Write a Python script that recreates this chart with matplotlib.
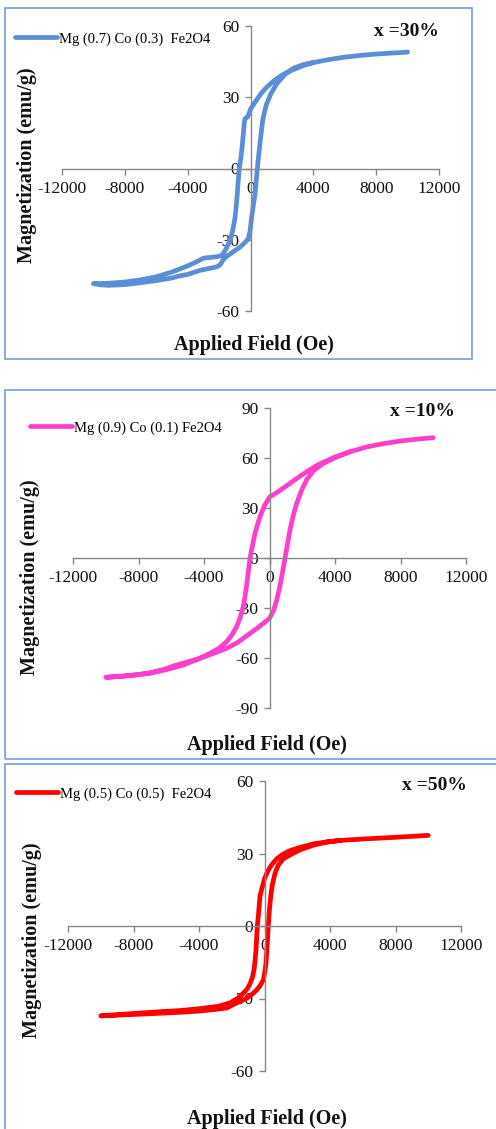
import matplotlib
matplotlib.use("Agg")
import matplotlib.pyplot as plt
from matplotlib.patches import Rectangle

# ---------------- data ----------------
# Panel 1: Mg(0.7)Co(0.3)Fe2O4, x = 30 %
h30_down = [10000, 9000, 8000, 7000, 6000, 5000, 4000, 3500, 3000, 2500, 2000, 1500, 1000, 700, 400, 200, 0, -100, -200, -350, -400, -450, -520, -600, -710, -780, -840, -910, -990, -1100, -1200, -1350, -1515, -1700, -1835, -2100, -2500, -2800, -3000, -3200, -3600, -4000, -5000, -6000, -7000, -8000, -9000, -10000]
m30_down = [49.0, 48.6, 48.2, 47.6, 46.9, 45.9, 44.6, 43.7, 42.4, 41.0, 39.3, 37.0, 34.0, 31.8, 29.0, 27.0, 25.0, 23.0, 21.6, 21.0, 19.0, 15.0, 10.0, 5.0, 0.0, -5.0, -10.7, -16.0, -21.0, -25.0, -28.0, -31.0, -33.3, -35.5, -36.6, -37.1, -37.4, -37.6, -37.8, -38.5, -39.8, -41.0, -43.6, -45.6, -46.9, -47.8, -48.3, -48.5]
h30_up = [-10000, -9500, -9000, -8000, -7000, -6000, -5000, -4500, -4000, -3215, -2500, -2150, -1940, -1730, -1500, -1300, -1000, -670, -400, -140, -30, 75, 180, 290, 360, 435, 520, 600, 690, 775, 900, 1030, 1300, 1670, 2200, 2730, 3300, 4000]
m30_up = [-48.5, -49.0, -49.2, -48.9, -48.1, -47.2, -46.1, -45.2, -44.6, -42.9, -41.9, -41.4, -40.6, -38.3, -36.9, -36.0, -34.6, -33.1, -31.5, -29.6, -26.5, -20.5, -15.5, -10.7, -5.5, 0.0, 5.5, 10.4, 15.5, 20.2, 24.2, 27.2, 31.5, 35.7, 39.6, 42.2, 43.6, 44.6]

# Panel 2: Mg(0.9)Co(0.1)Fe2O4, x = 10 %
h10_down = [10000, 9000, 8000, 7000, 6000, 5000, 4000, 3000, 2470, 2000, 1500, 1000, 500, 0, -300, -580, -750, -885, -1050, -1190, -1355, -1480, -1600, -1800, -2005, -2300, -2615, -3100, -3635, -4400, -5265, -6300, -7300, -8500, -10000]
m10_down = [72.2, 71.3, 70.2, 68.7, 66.8, 64.0, 60.6, 56.2, 53.0, 50.0, 46.6, 43.0, 39.6, 36.5, 31.5, 24.8, 19.5, 14.8, 7.0, 0.0, -13.2, -22.0, -29.2, -36.0, -41.2, -46.2, -50.2, -54.2, -57.2, -60.8, -64.2, -67.0, -69.2, -70.6, -71.6]
h10_up = [-10000, -9000, -8000, -7300, -6500, -5800, -5000, -4245, -3500, -2615, -2000, -1190, -600, 0, 250, 440, 600, 745, 850, 950, 1100, 1250, 1450, 1660, 1950, 2270, 2700, 3290, 4000, 4915]
m10_up = [-71.6, -70.9, -69.9, -68.8, -67.0, -64.6, -62.3, -60.2, -57.5, -54.2, -51.0, -45.2, -41.0, -36.2, -31.5, -25.2, -18.5, -11.2, -5.5, 0.0, 8.5, 16.8, 25.5, 32.8, 40.5, 47.0, 52.5, 56.8, 60.2, 63.8]

# Panel 3: Mg(0.5)Co(0.5)Fe2O4, x = 50 %
h50_down = [10000, 8000, 6000, 4610, 3800, 3010, 2200, 1560, 1100, 745, 400, 170, 0, -70, -180, -275, -330, -380, -440, -520, -580, -640, -750, -885, -1050, -1295, -1600, -2105, -2800, -3940, -5160, -6000, -8000, -10000]
m50_down = [37.5, 36.7, 36.0, 35.4, 34.8, 34.0, 32.6, 31.2, 29.6, 27.8, 25.0, 22.3, 19.5, 17.7, 15.0, 12.3, 8.0, 3.8, 0.0, -9.9, -14.5, -18.2, -21.5, -23.9, -26.0, -27.8, -29.8, -31.8, -33.2, -34.2, -35.0, -35.3, -36.2, -37.2]
h50_up = [-10000, -8000, -6000, -5160, -4000, -3130, -2300, -1905, -1500, -1090, -700, -480, -250, -70, 20, 90, 130, 170, 235, 280, 335, 410, 500, 650, 845, 1150, 1560, 2200, 3010, 3800, 4610]
m50_up = [-37.2, -36.6, -36.0, -35.7, -35.2, -34.6, -33.9, -32.5, -31.2, -29.9, -27.9, -26.5, -24.5, -22.3, -19.0, -15.4, -11.5, -7.2, 0.0, 5.0, 9.4, 14.0, 17.7, 22.0, 25.2, 27.8, 29.4, 31.6, 33.5, 34.7, 35.4]

x_ticks = [-12000, -8000, -4000, 0, 4000, 8000, 12000]
x_ticklabels = ["-12000", "-8000", "-4000", "0", "4000", "8000", "12000"]

# ---------------- figure ----------------
W, H = 496, 1129
fig = plt.figure(figsize=(W / 100, H / 100), dpi=100)
fig.patch.set_facecolor("white")
plt.rcParams["font.family"] = ["Liberation Serif", "DejaVu Serif"]

AXIS_GRAY = "#868686"
BORDER = "#7FA6DC"


def fx(px):
    return px / W


def fy(py):
    return 1 - py / H


def border(x0, y0, x1, y1):
    r = Rectangle((fx(x0), fy(y1)), fx(x1) - fx(x0), fy(y0) - fy(y1),
                  transform=fig.transFigure, fill=False, edgecolor=BORDER,
                  linewidth=1.3, zorder=0)
    fig.patches.append(r)


def panel(xpx, ypx, ylim, yticks, hd, md, hu, mu, color, label, tag,
          tagpos, legpos, ylabpos, xlabpos):
    left, right = xpx
    top, bottom = ypx
    ax = fig.add_axes([fx(left), fy(bottom), fx(right) - fx(left), fy(top) - fy(bottom)])
    ax.set_facecolor("none")
    ln, = ax.plot(hd + hu, md + mu, color=color, lw=3.4, solid_joinstyle="round",
                  solid_capstyle="round", clip_on=False, label=label)
    ax.set_xlim(-12000, 12000)
    ax.set_ylim(*ylim)
    for s in ("top", "right"):
        ax.spines[s].set_visible(False)
    ax.spines["left"].set_position(("data", 0))
    ax.spines["bottom"].set_position(("data", 0))
    for s in ("left", "bottom"):
        ax.spines[s].set_color(AXIS_GRAY)
        ax.spines[s].set_linewidth(1.0)
    ax.set_xticks(x_ticks)
    ax.set_xticklabels(x_ticklabels)
    ax.set_yticks(yticks)
    ax.set_yticklabels([str(v) for v in yticks])
    ax.tick_params(axis="both", direction="out", length=4, width=1.0,
                   color=AXIS_GRAY, labelsize=12.5, labelcolor="#111111")
    ax.tick_params(axis="x", pad=5)
    ax.tick_params(axis="y", pad=4)
    # legend
    ax.legend(handles=[ln], loc="center left", bbox_to_anchor=(fx(legpos[0]), fy(legpos[1])),
              bbox_transform=fig.transFigure, frameon=False, fontsize=10.5,
              handlelength=2.9, handletextpad=0.1, borderpad=0, borderaxespad=0)
    fig.text(fx(tagpos[0]), fy(tagpos[1]), tag, fontsize=14, fontweight="bold",
             ha="left", va="center", color="#111111")
    fig.text(fx(ylabpos[0]), fy(ylabpos[1]), "Magnetization (emu/g)", rotation=90,
             fontsize=14.5, fontweight="bold", ha="center", va="center", color="#111111")
    fig.text(fx(xlabpos[0]), fy(xlabpos[1]), "Applied Field (Oe)",
             fontsize=14.5, fontweight="bold", ha="center", va="center", color="#111111")
    return ax


# panel borders
border(5, 8, 472, 359)
border(5, 390, 500, 759)
border(5, 764, 500, 1140)

panel((62, 439), (26, 311), (-60, 60), [-60, -30, 0, 30, 60],
      h30_down, m30_down, h30_up, m30_up, "#5A8FD8",
      "Mg (0.7) Co (0.3)  Fe2O4", "x =30%", (374, 32), (15, 39), (27, 165), (254, 345))

panel((73, 466), (408, 708), (-90, 90), [-90, -60, -30, 0, 30, 60, 90],
      h10_down, m10_down, h10_up, m10_up, "#FF3FCC",
      "Mg (0.9) Co (0.1) Fe2O4", "x =10%", (390, 411), (30, 428), (30, 577), (267, 745))

panel((68, 461), (781, 1071), (-60, 60), [-60, -30, 0, 30, 60],
      h50_down, m50_down, h50_up, m50_up, "#FF0000",
      "Mg (0.5) Co (0.5)  Fe2O4", "x =50%", (402, 785), (16, 794), (32, 940), (267, 1119))

fig.savefig("out.png", dpi=100, facecolor="white")
